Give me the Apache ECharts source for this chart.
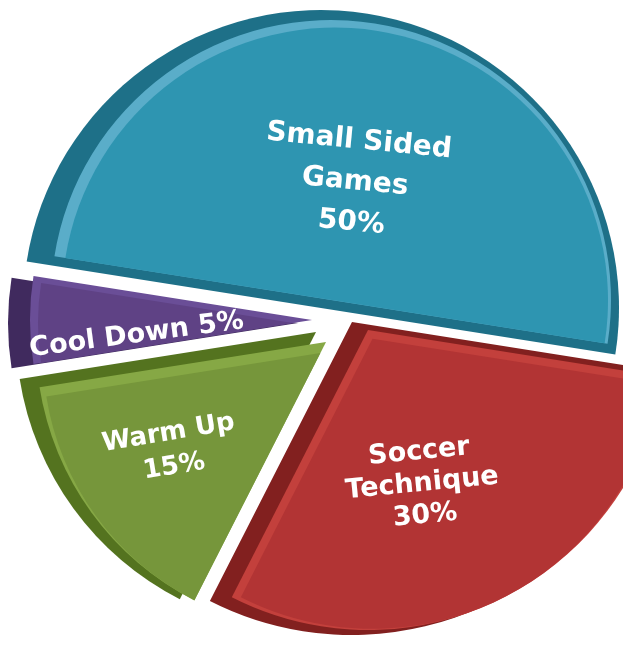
<!DOCTYPE html>
<html>
<head>
<meta charset="utf-8">
<script src="https://cdn.jsdelivr.net/npm/echarts@6/dist/echarts.min.js"></script>
<style>
html,body{margin:0;padding:0;background:#fff;}
#chart{width:623px;height:656px;}
</style>
</head>
<body>
<div id="chart"></div>
<script>
// ---- data ----
const categories = ['Small Sided Games', 'Soccer Technique', 'Warm Up', 'Cool Down'];
const values = [50, 30, 15, 5];
const labelText = ['Small Sided\nGames', 'Soccer\nTechnique', 'Warm Up', 'Cool Down'];
const labelSep = ['\n', '\n', '\n', ' '];

// ---- styles ----
const faceColors = ['#2E95B1', '#B23434', '#76963B', '#5F4285'];
const rimColors  = ['#5AADC9', '#C3403C', '#86A845', '#6A4E97'];
const wallColors = ['#1E7088', '#82201F', '#54731F', '#402A5E'];
// c/r: slice; wc/wr: side wall; fs/fr: face shift & radius inset (rim bevel)
const layout = [
  {c: [331, 300], r: 280, wc: [321, 308], wr: 298, fs: [4, 0.6], fr: 7,  rot: -5.5, font: 28, lh: 41, dx: 4, dy: 23},
  {c: [368, 330], r: 300, wc: [352, 322], wr: 313, fs: [4.5, 8.8], fr: 10, rot: 5.5, font: 27, lh: 32, dx: -17, dy: 16},
  {c: [326, 342], r: 290, wc: [316, 332], wr: 300, fs: [-5.6, 11], fr: 12.5, rot: 9.5, font: 26, lh: 34, dx: -38, dy: 15},
  {c: [312, 320], r: 282, wc: [298, 323], wr: 290, fs: [-19, 3], fr: 27, rot: 7.5, font: 27, lh: 32, dx: -33, dy: 11}
];
const START = 171;

// kind: 'wall' | 'rim' | 'face' | 'label'
function makeSeries(i, kind) {
  const L = layout[i];
  let center = L.c, radius = L.r, color = rimColors[i], z = 2;
  if (kind === 'wall') { center = L.wc; radius = L.wr; color = wallColors[i]; z = 1; }
  if (kind === 'face') { center = [L.c[0] + L.fs[0], L.c[1] + L.fs[1]]; radius = L.r - L.fr; color = faceColors[i]; z = 3; }
  if (kind === 'label') { color = 'rgba(0,0,0,0)'; z = 4; }
  const isLabel = kind === 'label';
  return {
    type: 'pie',
    silent: true,
    clockwise: true,
    startAngle: START,
    center: center,
    radius: [0, radius],
    z: z,
    avoidLabelOverlap: false,
    labelLine: {show: false},
    emphasis: {disabled: true},
    label: {
      show: false,
      position: 'inside',
      color: '#fff',
      fontFamily: 'DejaVu Sans',
      fontWeight: 'bold',
      fontSize: L.font,
      lineHeight: L.lh,
      rotate: L.rot,
      formatter: () => labelText[i] + labelSep[i] + values[i] + '%'
    },
    labelLayout: isLabel ? {dx: L.dx, dy: L.dy} : undefined,
    data: values.map((v, j) => ({
      name: categories[j],
      value: v,
      itemStyle: {
        color: j === i ? color : 'rgba(0,0,0,0)',
        borderWidth: 0
      },
      label: {show: isLabel && j === i}
    }))
  };
}

const series = [];
['wall', 'rim', 'face', 'label'].forEach(kind => {
  for (let i = 0; i < values.length; i++) series.push(makeSeries(i, kind));
});

const chart = echarts.init(document.getElementById('chart'));
chart.setOption({
  animation: false,
  backgroundColor: '#fff',
  series: series
});
</script>
</body>
</html>
